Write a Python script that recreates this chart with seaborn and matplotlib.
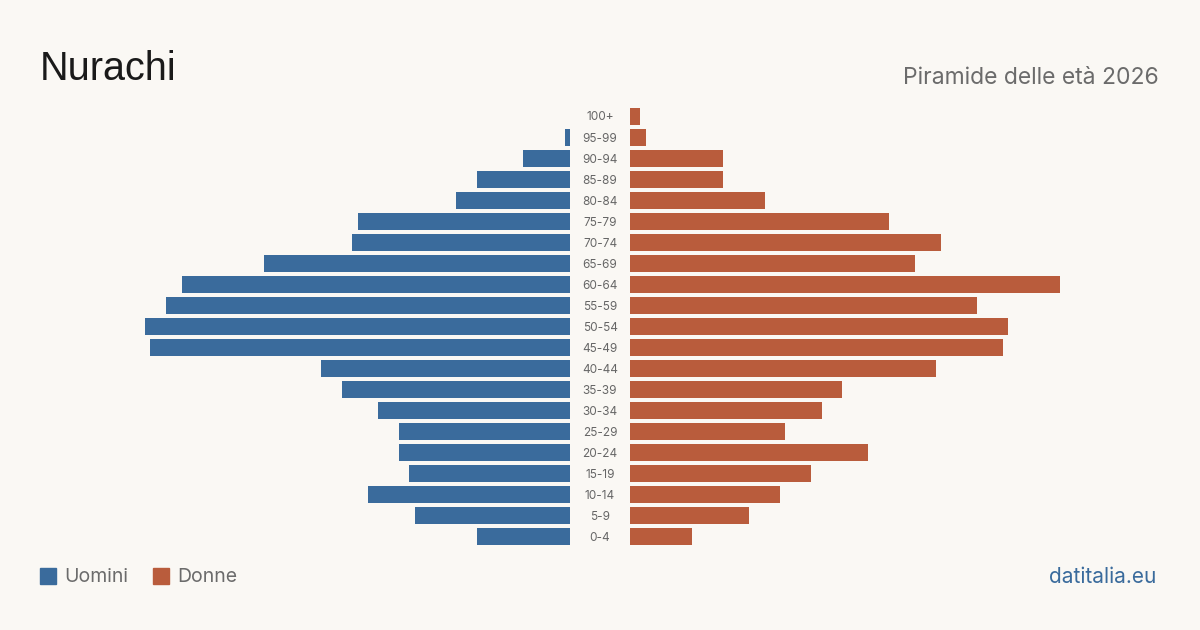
import matplotlib.pyplot as plt
import matplotlib.patches as mpatches
import seaborn as sns

# age classes, top to bottom
ages = ['100+', '95-99', '90-94', '85-89', '80-84', '75-79', '70-74', '65-69',
        '60-64', '55-59', '50-54', '45-49', '40-44', '35-39', '30-34', '25-29',
        '20-24', '15-19', '10-14', '5-9', '0-4']
uomini = [0, 1, 9, 18, 22, 41, 42, 59, 75, 78, 82, 81, 48, 44, 37, 33, 33, 31, 39, 30, 18]
donne = [2, 3, 18, 18, 26, 50, 60, 55, 83, 67, 73, 72, 59, 41, 37, 30, 46, 35, 29, 23, 12]

bg = '#faf8f4'
blu = '#3a6b9c'
rosso = '#b95c3c'

sns.set_theme(style='white')
plt.rcParams['font.family'] = ['Inter', 'DejaVu Sans']

fig = plt.figure(figsize=(12, 6.3), dpi=100)
fig.patch.set_facecolor(bg)

W, H = 1200, 630
top, bottom = 106, 547.2
xmax = 530 / 5.18

ax_m = fig.add_axes([40 / W, 1 - bottom / H, 530 / W, (bottom - top) / H])
ax_f = fig.add_axes([630 / W, 1 - bottom / H, 530 / W, (bottom - top) / H])

sns.barplot(x=uomini, y=ages, order=ages, orient='h', color=blu, width=0.8,
            saturation=1, linewidth=0, ax=ax_m)
sns.barplot(x=donne, y=ages, order=ages, orient='h', color=rosso, width=0.8,
            saturation=1, linewidth=0, ax=ax_f)

ax_m.set_xlim(xmax, 0)
ax_f.set_xlim(0, xmax)
for ax in (ax_m, ax_f):
    ax.set_ylim(len(ages) - 0.5, -0.5)
    ax.set_facecolor('none')
    ax.set_xticks([])
    ax.set_yticks([])
    ax.set_xlabel('')
    ax.set_ylabel('')
    for s in ax.spines.values():
        s.set_visible(False)

# age labels in the middle gap
for i, a in enumerate(ages):
    y = 1 - (117.5 + i * 21.01) / H
    fig.text(600 / W, y, a, ha='center', va='center', fontsize=8.5, color='#666666')

fig.text(40 / W, 1 - 68.5 / H, 'Nurachi', ha='left', va='center', fontsize=28.5,
         color='#1a1a1a', family=['Liberation Sans', 'DejaVu Sans'])
fig.text(1159 / W, 1 - 78 / H, 'Piramide delle età 2026', ha='right', va='center',
         fontsize=16.5, color='#6b6b6b')

# legend
fig.patches.append(mpatches.Rectangle((40 / W, 1 - 584 / H), 16 / W, 16 / H,
                                      transform=fig.transFigure, color=blu))
fig.text(64 / W, 1 - 577 / H, 'Uomini', ha='left', va='center', fontsize=14, color='#6b6b6b')
fig.patches.append(mpatches.Rectangle((153 / W, 1 - 584 / H), 16 / W, 16 / H,
                                      transform=fig.transFigure, color=rosso))
fig.text(177 / W, 1 - 577 / H, 'Donne', ha='left', va='center', fontsize=14, color='#6b6b6b')

fig.text(1156 / W, 1 - 577 / H, 'datitalia.eu', ha='right', va='center', fontsize=15, color=blu)

fig.savefig('out.png', dpi=100, facecolor=bg)
